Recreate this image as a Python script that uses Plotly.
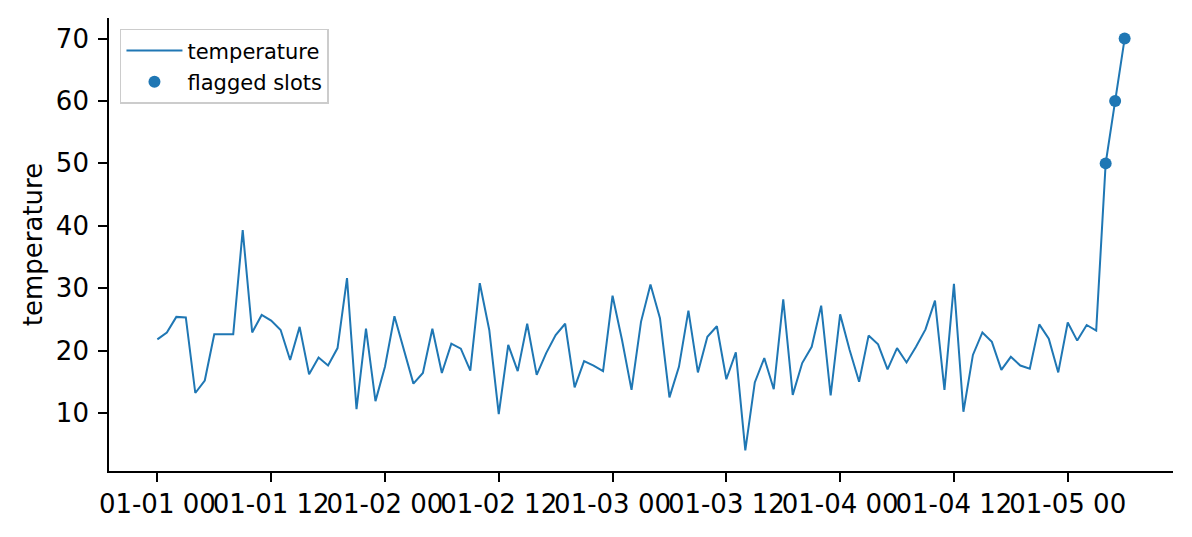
import pandas as pd
import plotly.graph_objects as go

# hourly temperature readings starting 01-01 00:00
start_time = "2024-01-01 00:00"
temperature = [
    21.8, 22.9, 25.4, 25.3, 13.2, 15.2, 22.6, 22.6, 22.6, 39.3,
    22.9, 25.7, 24.8, 23.3, 18.5, 23.8, 16.2,
    18.9, 17.6, 20.4, 31.6, 10.6, 23.5, 11.9, 17.4, 25.5, 20.1, 14.7, 16.4, 23.5, 16.4, 21.1, 20.3, 16.8,
    30.8, 23.3, 9.8, 20.9, 16.7, 24.3, 16.1, 19.6, 22.5, 24.3, 14.1, 18.3, 17.6, 16.7, 28.8, 21.7, 13.7,
    24.6, 30.6, 25.2, 12.5, 17.4, 26.4, 16.5, 22.2, 23.9, 15.4, 19.7, 4.0, 14.9, 18.8, 13.8, 28.2, 12.9,
    18.0, 20.6, 27.2, 12.8, 25.8, 20.1, 15.0, 22.4, 21.0, 17.0, 20.4, 18.1, 20.6, 23.4, 28.0, 13.7, 30.7,
    10.2, 19.3, 22.9, 21.4, 16.9, 19.0, 17.6, 17.1, 24.2, 21.9, 16.5, 24.5, 21.6, 24.1, 23.2,
    50.0, 60.0, 70.0,
]
flagged_index = [100, 101, 102]
flagged_values = [50.0, 60.0, 70.0]
y_ticks = [10, 20, 30, 40, 50, 60, 70]

times = pd.date_range(start_time, periods=len(temperature), freq="h")
flagged_times = [times[i] for i in flagged_index]

BLUE = "#1f77b4"
FONT = "DejaVu Sans"

fig = go.Figure()
fig.add_trace(go.Scatter(
    x=times, y=temperature, mode="lines", name="temperature",
    line=dict(color=BLUE, width=2), legendgroup="a",
))
fig.add_trace(go.Scatter(
    x=flagged_times, y=flagged_values, mode="markers", name="flagged slots",
    marker=dict(color=BLUE, size=12), legendgroup="b",
))

x0 = times[0] - pd.Timedelta(hours=5.1)
x1 = times[-1] + pd.Timedelta(hours=5.1)

# page body adds an 8px offset; figure sized to fit the window
fig.update_layout(
    width=1184, height=529,
    margin=dict(l=101, r=19, t=10, b=66),
    paper_bgcolor="white", plot_bgcolor="white",
    font=dict(family=FONT, size=26, color="black"),
    showlegend=True,
    legend=dict(
        x=0.0103, y=0.976, xanchor="left", yanchor="top",
        bgcolor="rgba(255,255,255,0.8)", bordercolor="#cccccc", borderwidth=1.5,
        font=dict(family=FONT, size=21, color="black"),
        tracegroupgap=1, itemwidth=56,
    ),
    xaxis=dict(
        type="date", range=[x0, x1], automargin=False,
        tick0=start_time, dtick=12 * 3600 * 1000, tickformat="%m-%d %H",
        tickangle=0,
        showgrid=False, zeroline=False,
        showline=True, linecolor="black", linewidth=1.7,
        ticks="outside", ticklen=9, tickwidth=1.7, tickcolor="black",
        tickfont=dict(family=FONT, size=26, color="black"),
        ticklabelstandoff=0,
    ),
    yaxis=dict(
        range=[0.7, 73.3], tickvals=y_ticks, automargin=False,
        showgrid=False, zeroline=False,
        showline=True, linecolor="black", linewidth=1.7,
        ticks="outside", ticklen=9, tickwidth=1.7, tickcolor="black",
        tickfont=dict(family=FONT, size=26, color="black"),
        ticklabelstandoff=4,
        title=dict(text="temperature", font=dict(family=FONT, size=26, color="black"), standoff=6),
    ),
)

fig.write_html("out.html")
